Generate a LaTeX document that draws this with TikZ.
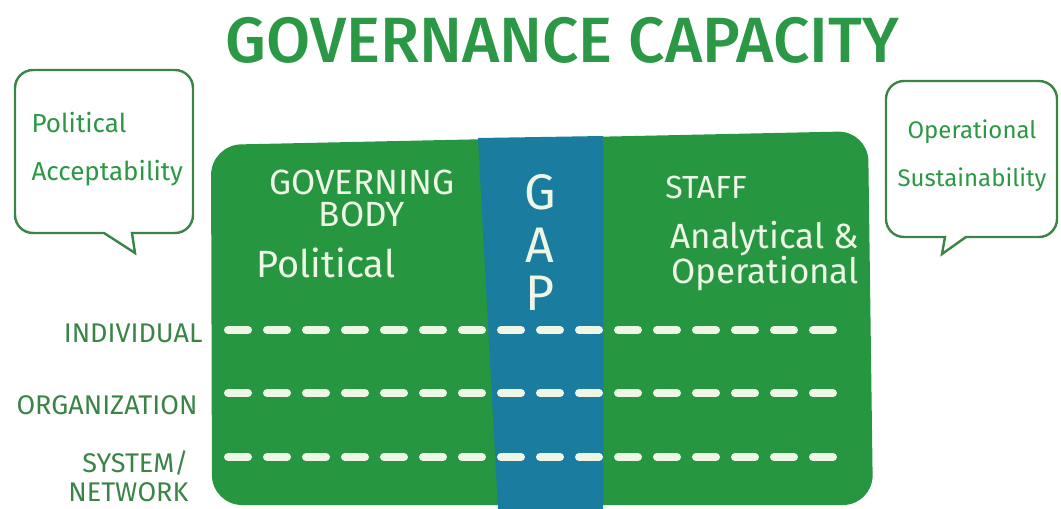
\documentclass[tikz,border=0pt]{standalone}
\usepackage{fontspec}
\setmainfont{Fira Sans}
\newfontfamily\titlefont{Fira Sans Medium}

\definecolor{govgreen}{RGB}{42,152,68}
\definecolor{boardgreen}{RGB}{38,150,64}
\definecolor{gapblue}{RGB}{26,124,158}
\definecolor{chalk}{RGB}{238,246,230}
\definecolor{inkgreen}{RGB}{58,132,72}

\tikzset{
  bubble/.style={draw=inkgreen,line width=2.4pt,fill=white},
  chalkdash/.style={draw=chalk,line width=8pt,line cap=round,dash pattern=on 20pt off 19pt},
}

\begin{document}
\begin{tikzpicture}[x=1pt,y=-1pt]
    \useasboundingbox (0,0) rectangle (1061,509);

        % title
        \node[text=govgreen,font=\fontsize{64}{64}\titlefont] (title) at (562,40) {GOVERNANCE CAPACITY};

        % board and gap band
        \fill[boardgreen,rounded corners=30pt] (212,505) -- (211,145) -- (868,131) -- (873,505) -- cycle;
        \fill[gapblue] (478,138) -- (603,136) -- (603,509) -- (498,509) -- cycle;

        % speech bubbles
        \draw[bubble] (135,253) -- (104,233) [rounded corners=18pt] -- (15,233) -- (15,70) -- (193,70) -- (193,233) [sharp corners] -- (132,233) -- cycle;
        \draw[bubble] (942,254) -- (945,237) [rounded corners=18pt] -- (886,237) -- (886,81) -- (1057,81) -- (1057,237) [sharp corners] -- (966,237) -- cycle;

        \begin{scope}[every node/.style={text=govgreen,font=\fontsize{26}{48}\selectfont,align=left}]
            \node[anchor=west] (polacc) at (28,149) {Political\\Acceptability};
            \node[align=center,font=\fontsize{24}{48}\selectfont] (opsus) at (972,156) {Operational\\Sustainability};
        \end{scope}

        % column headings on the board
        \begin{scope}[every node/.style={text=chalk,align=center}]
            \node[font=\fontsize{35}{32}\selectfont] (govbody) at (362,198) {GOVERNING\\BODY};
            \node[font=\fontsize{38}{38}\selectfont] (political) at (326,263) {Political};
            \node[font=\fontsize{32}{32}\selectfont] (staff) at (706,187) {STAFF};
            \node[font=\fontsize{35}{34}\selectfont] (anaop) at (765,256) {Analytical \&\\Operational};
            \node[font=\fontsize{50}{50}\selectfont] (g) at (540,192) {G};
            \node[font=\fontsize{50}{50}\selectfont] (a) at (540,245) {A};
            \node[font=\fontsize{50}{50}\selectfont] (p) at (540,293) {P};
        \end{scope}

        % levels
        \begin{scope}[every node/.style={text=inkgreen,font=\fontsize{27}{29}\selectfont,anchor=east,align=right}]
            \node (individual) at (206,333) {INDIVIDUAL};
            \node (organization) at (201,405) {ORGANIZATION};
            \node (sysnet) at (192,476) {SYSTEM/\\NETWORK};
        \end{scope}

        \foreach \y/\lvl in {330/ind,393/org,457/sys} {
            \coordinate (\lvl-a) at (228,\y);
            \coordinate (\lvl-b) at (843,\y);
            \draw[chalkdash] (\lvl-a) -- (\lvl-b);
        }

    \end{tikzpicture}
\end{document}
